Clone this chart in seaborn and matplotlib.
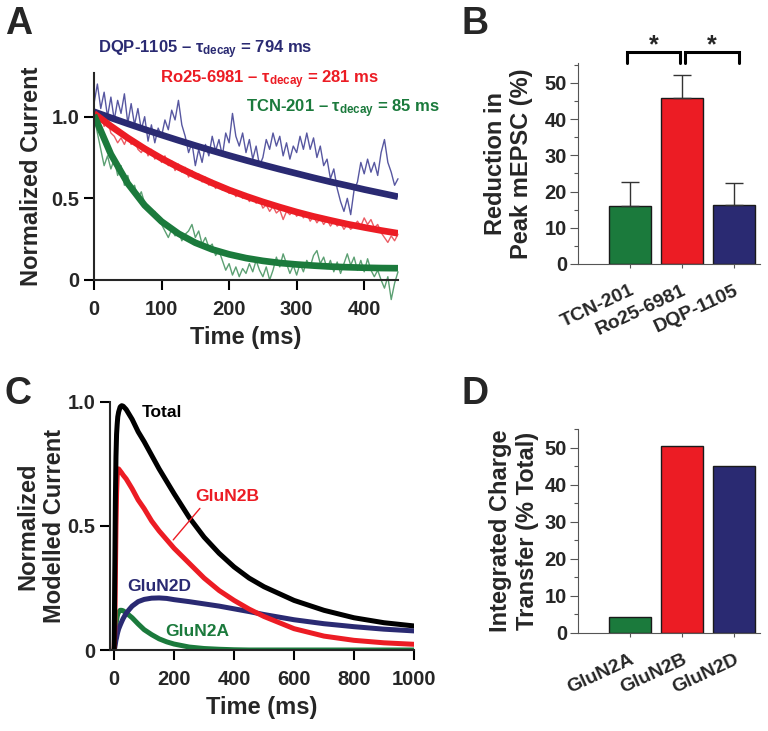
import seaborn as sns
import matplotlib.pyplot as plt
from matplotlib.ticker import MultipleLocator

# --- DATA ---

# Panel A: raw normalized mEPSC traces, sampled every 5 ms
time_a = list(range(0, 455, 5))
dqp_trace = [1.08, 1.20, 1.05, 1.15, 1.00, 1.12, 0.98, 1.10, 1.02, 1.14,
             0.96, 1.08, 0.95, 1.05, 0.92, 1.00, 0.85, 0.95, 0.84, 0.93,
             0.88, 0.98, 0.92, 1.04, 0.98, 1.10, 0.95, 0.88, 0.78, 0.84,
             0.70, 0.80, 0.72, 0.83, 0.76, 0.88, 0.79, 0.86, 0.76, 0.90,
             0.84, 1.02, 0.88, 0.82, 0.90, 0.78, 0.86, 0.74, 0.82, 0.70,
             0.75, 0.86, 0.80, 0.90, 0.82, 0.88, 0.76, 0.84, 0.74, 0.82,
             0.78, 0.88, 0.80, 0.90, 0.80, 0.87, 0.75, 0.82, 0.70, 0.74,
             0.62, 0.68, 0.56, 0.48, 0.42, 0.50, 0.40, 0.55, 0.60, 0.72,
             0.65, 0.74, 0.66, 0.72, 0.64, 0.78, 0.86, 0.72, 0.66, 0.58,
             0.62]
ro_trace = [1.05, 0.98, 1.02, 0.94, 0.98, 0.90, 0.88, 0.84, 0.87, 0.83,
            0.88, 0.83, 0.86, 0.80, 0.78, 0.82, 0.76, 0.80, 0.74, 0.77,
            0.72, 0.76, 0.70, 0.73, 0.67, 0.71, 0.66, 0.69, 0.63, 0.67,
            0.62, 0.65, 0.60, 0.63, 0.58, 0.61, 0.56, 0.59, 0.55, 0.57,
            0.53, 0.56, 0.51, 0.54, 0.50, 0.53, 0.48, 0.51, 0.47, 0.49,
            0.44, 0.46, 0.42, 0.45, 0.41, 0.43, 0.37, 0.42, 0.40, 0.43,
            0.39, 0.42, 0.38, 0.41, 0.36, 0.39, 0.35, 0.38, 0.34, 0.37,
            0.33, 0.36, 0.33, 0.35, 0.31, 0.34, 0.31, 0.33, 0.36, 0.33,
            0.38, 0.34, 0.37, 0.32, 0.34, 0.29, 0.26, 0.23, 0.27, 0.24,
            0.28]
tcn_trace = [1.00, 0.90, 0.80, 0.70, 0.76, 0.68, 0.74, 0.64, 0.70, 0.58,
             0.64, 0.55, 0.58, 0.50, 0.54, 0.47, 0.45, 0.40, 0.42, 0.36,
             0.34, 0.30, 0.26, 0.31, 0.27, 0.30, 0.24, 0.28, 0.30, 0.34,
             0.26, 0.30, 0.22, 0.26, 0.20, 0.22, 0.15, 0.18, 0.12, 0.06,
             0.10, 0.03, 0.08, 0.02, 0.07, 0.04, 0.10, 0.05, 0.12, 0.06,
             0.02, 0.08, 0.00, 0.06, 0.14, 0.08, 0.16, 0.10, 0.04, 0.09,
             0.03, 0.10, 0.05, 0.12, 0.08, 0.15, 0.18, 0.10, 0.14, 0.07,
             0.12, 0.05, 0.11, 0.04, 0.10, 0.16, 0.09, 0.14, 0.06, 0.12,
             0.05, 0.13, 0.06, 0.02, 0.06, 0.00, -0.05, 0.02, -0.12, -0.02,
             0.05]

# Panel A: single-exponential fits, every 25 ms
time_fit = list(range(0, 475, 25))
dqp_fit = [1.03, 0.993, 0.957, 0.922, 0.888, 0.855, 0.823, 0.792, 0.762, 0.733,
           0.705, 0.678, 0.652, 0.626, 0.601, 0.578, 0.554, 0.532, 0.51]
ro_fit = [1.02, 0.942, 0.870, 0.804, 0.744, 0.690, 0.640, 0.594, 0.551, 0.513,
          0.478, 0.446, 0.416, 0.389, 0.365, 0.342, 0.322, 0.303, 0.286]
tcn_fit = [1.01, 0.770, 0.591, 0.457, 0.358, 0.284, 0.228, 0.187, 0.157, 0.134,
           0.117, 0.104, 0.095, 0.088, 0.082, 0.078, 0.075, 0.073, 0.072]
a_labels = ['DQP-1105', 'Ro25-6981', 'TCN-201']
a_tau = [794, 281, 85]

# Panel B
drugs = ['TCN-201', 'Ro25-6981', 'DQP-1105']
reduction = [16.1, 45.8, 16.2]
reduction_sem = [6.6, 6.5, 6.1]

# Panel C: modelled currents
time_c = [0, 2, 4, 6, 8, 10, 12, 15, 20, 25, 30, 40, 50, 60, 80, 100, 125, 150,
          175, 200, 250, 300, 350, 400, 450, 500, 600, 700, 800, 900, 1000]
total_c = [0, 0.30, 0.60, 0.78, 0.87, 0.91, 0.94, 0.96, 0.98, 0.985, 0.983, 0.97,
           0.95, 0.93, 0.88, 0.84, 0.785, 0.73, 0.68, 0.63, 0.535, 0.455, 0.39,
           0.335, 0.29, 0.255, 0.20, 0.16, 0.13, 0.11, 0.097]
n2b_c = [0, 0.08, 0.30, 0.50, 0.63, 0.70, 0.73, 0.73, 0.722, 0.714, 0.705, 0.69,
         0.67, 0.65, 0.605, 0.57, 0.52, 0.48, 0.445, 0.41, 0.35, 0.29, 0.24,
         0.20, 0.165, 0.135, 0.086, 0.056, 0.039, 0.029, 0.023]
n2d_c = [0, 0.01, 0.025, 0.04, 0.05, 0.062, 0.072, 0.085, 0.10, 0.114, 0.127,
         0.148, 0.163, 0.177, 0.195, 0.204, 0.209, 0.21, 0.208, 0.203, 0.195,
         0.186, 0.177, 0.166, 0.155, 0.143, 0.122, 0.106, 0.094, 0.084, 0.077]
n2a_c = [0, 0.03, 0.07, 0.10, 0.12, 0.135, 0.145, 0.153, 0.16, 0.16, 0.158, 0.15,
         0.14, 0.13, 0.105, 0.082, 0.062, 0.045, 0.033, 0.024, 0.012, 0.006,
         0.003, 0.001, 0, 0, 0, 0, 0, 0, 0]

# Panel D
subunits = ['GluN2A', 'GluN2B', 'GluN2D']
charge = [4.3, 50.4, 45.1]

# --- STYLE ---
GREEN = '#1b7a3c'
RED = '#ec1c24'
NAVY = '#2a2a72'
TRACE_COLS = ['#3a3a90', '#e8414a', '#3f8f5a']

sns.set_style('ticks')
plt.rcParams['font.family'] = ['Liberation Sans', 'DejaVu Sans']
plt.rcParams['font.weight'] = 'bold'
plt.rcParams['axes.labelweight'] = 'bold'
plt.rcParams['mathtext.fontset'] = 'custom'
plt.rcParams['mathtext.rm'] = 'Liberation Sans:bold'
plt.rcParams['mathtext.it'] = 'Liberation Sans:bold'
plt.rcParams['mathtext.bf'] = 'Liberation Sans:bold'

W, H = 768, 731
fig = plt.figure(figsize=(W / 100, H / 100), dpi=100)

def px(x, y):
    return x / W, 1 - y / H

axA = fig.add_axes([0.1224, 0.6170, 0.3958, 0.2837])
axB = fig.add_axes([0.7526, 0.6389, 0.2370, 0.2749])
axC = fig.add_axes([0.1432, 0.1108, 0.3958, 0.3393])
axD = fig.add_axes([0.7526, 0.1341, 0.2370, 0.2784])

# --- PANEL A ---
for trace, col in zip([dqp_trace, ro_trace, tcn_trace], TRACE_COLS):
    sns.lineplot(x=time_a, y=trace, color=col, lw=1.0, alpha=0.85, ax=axA, clip_on=False)
for fit, col in zip([dqp_fit, ro_fit, tcn_fit], [NAVY, RED, GREEN]):
    sns.lineplot(x=time_fit, y=fit, color=col, lw=4.8, ax=axA, solid_capstyle='butt')

axA.set_xlim(0, 450)
axA.set_ylim(0, 1.27)
axA.set_xticks([0, 100, 200, 300, 400])
axA.set_yticks([0, 0.5, 1.0])
axA.set_yticklabels(['0', '0.5', '1.0'])
sns.despine(ax=axA)
for s in ['left', 'bottom']:
    axA.spines[s].set_linewidth(1.5)
axA.tick_params(width=1.5, length=7.5, labelsize=14.5, pad=3, color='black')
axA.tick_params(axis='x', pad=7)
axA.set_xlabel('Time (ms)', fontsize=17, labelpad=5)
axA.set_ylabel('Normalized Current', fontsize=17, labelpad=6)

for lab, tau, col, (x, y) in zip(a_labels, a_tau, [NAVY, RED, GREEN],
                                 [(98, 53), (160, 83), (246, 112)]):
    fig.text(*px(x, y), f'{lab} \u2013 ' + r'$\tau_{decay}$' + f' = {tau} ms',
             color=col, fontsize=12, ha='left', va='baseline')

# --- PANEL B ---
sns.barplot(x=drugs, y=reduction, hue=drugs, palette=[GREEN, RED, NAVY], legend=False,
            width=0.8, saturation=1, edgecolor='#1a1a1a', linewidth=1, ax=axB)
axB.errorbar(x=[0, 1, 2], y=reduction, yerr=[[0, 0, 0], reduction_sem], fmt='none',
             ecolor='#333333', elinewidth=1, capsize=6.5, capthick=1)
for x0, x1 in [(-0.06, 0.96), (1.06, 2.1)]:
    axB.plot([x0, x0, x1, x1], [55.5, 58.6, 58.6, 55.5], color='black', lw=2.2,
             clip_on=False, solid_joinstyle='miter')
    axB.text((x0 + x1) / 2, 58.4, '*', ha='center', va='baseline', fontsize=18)

# --- PANEL C ---
for curve, col in zip([n2a_c, n2d_c, n2b_c, total_c], [GREEN, NAVY, RED, 'black']):
    sns.lineplot(x=time_c, y=curve, color=col, lw=3.6, ax=axC)
axC.set_xlim(-14, 1000)
axC.set_ylim(0, 1.0)
axC.set_xticks(range(0, 1001, 200))
axC.set_yticks([0, 0.5, 1.0])
axC.set_yticklabels(['0', '0.5', '1.0'])
sns.despine(ax=axC)
for s in ['left', 'bottom']:
    axC.spines[s].set_linewidth(1.5)
axC.tick_params(width=1.5, length=7.5, labelsize=14.5, pad=3, color='black')
axC.tick_params(axis='x', pad=7)
axC.set_xlabel('Time (ms)', fontsize=17, labelpad=5)
axC.set_ylabel('Normalized\nModelled Current', fontsize=17, labelpad=1)
axC.text(158, 0.958, 'Total', color='black', fontsize=12.5, ha='center', va='center')
axC.text(377, 0.618, 'GluN2B', color=RED, fontsize=12.5, ha='center', va='center')
axC.plot([197, 286], [0.444, 0.571], color=RED, lw=1)
axC.text(150, 0.258, 'GluN2D', color=NAVY, fontsize=12.5, ha='center', va='center')
axC.text(278, 0.074, 'GluN2A', color=GREEN, fontsize=12.5, ha='center', va='center')

# --- PANEL D ---
sns.barplot(x=subunits, y=charge, hue=subunits, palette=[GREEN, RED, NAVY], legend=False,
            width=0.8, saturation=1, edgecolor='#1a1a1a', linewidth=1, ax=axD)

# shared bar-axis styling
for ax, top, names, ylab, lpad in [
        (axB, 55.5, drugs, 'Reduction in\nPeak mEPSC (%)', 8),
        (axD, 55, subunits, 'Integrated Charge\nTransfer (% Total)', 4)]:
    ax.set_xlim(-1, 2.5)
    ax.set_ylim(0, top)
    ax.set_yticks(range(0, 51, 10))
    ax.yaxis.set_minor_locator(MultipleLocator(5))
    ax.set_xticks([0, 1, 2])
    ax.set_xticklabels(names, rotation=25, ha='right', rotation_mode='anchor')
    sns.despine(ax=ax)
    for s in ['left', 'bottom']:
        ax.spines[s].set_linewidth(0.8)
        ax.spines[s].set_color('#555555')
    ax.tick_params(axis='y', which='major', length=6, width=0.8, color='#555555',
                   labelsize=14.5, pad=2)
    ax.tick_params(axis='y', which='minor', length=3, width=0.8, color='#555555')
    ax.tick_params(axis='x', length=3, width=0.8, color='#555555', labelsize=14, pad=10)
    ax.set_xlabel('')
    ax.set_ylabel(ylab, fontsize=17, labelpad=lpad)

# panel letters
for letter, (x, y) in zip('ABCD', [(5, 6), (462, 6), (5, 376), (462, 376)]):
    fig.text(*px(x, y), letter, fontsize=27, ha='left', va='top')

fig.savefig('out.png', dpi=100)
